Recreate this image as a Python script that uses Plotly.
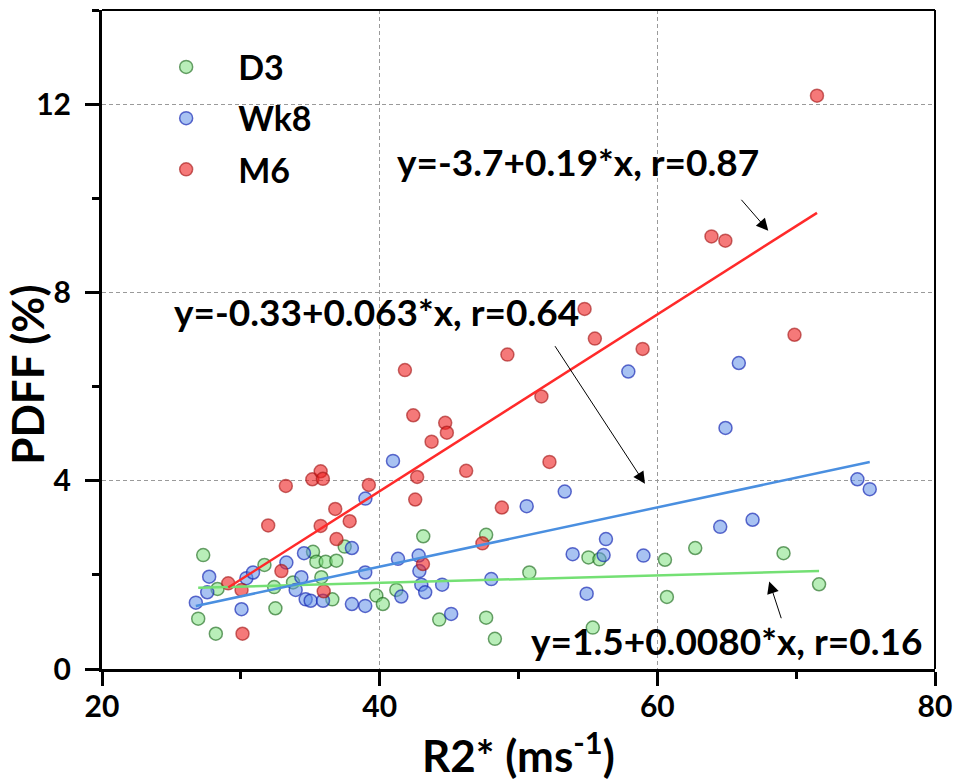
import plotly.graph_objects as go

# ---------------- data ----------------
d3_x = [27.29, 28.32, 26.93, 28.2, 31.7, 32.4, 32.49, 33.76, 35.2, 35.44, 36.11, 36.88,
        35.8, 36.59, 37.48, 39.76, 40.23, 41.2, 43.14, 44.29, 47.67, 47.67, 48.3, 50.78,
        55.04, 55.83, 55.35, 60.55, 60.69, 62.73, 69.09, 71.65]
d3_y = [2.42, 1.70, 1.07, 0.75, 2.21, 1.74, 1.29, 1.84, 2.49, 2.28, 2.28, 2.30,
        1.95, 1.48, 2.60, 1.56, 1.38, 1.68, 2.82, 1.05, 2.85, 1.09, 0.64, 2.05,
        2.37, 2.33, 0.88, 2.32, 1.53, 2.57, 2.46, 1.80]

wk8_x = [26.76, 27.58, 27.72, 30.05, 30.4, 30.88, 33.28, 34.55, 34.36, 33.95, 34.67, 35.03,
         35.92, 38.0, 38.0, 38.96, 38.96, 38.97, 40.96, 41.32, 41.56, 42.81, 42.86, 43.0,
         43.28, 44.5, 45.15, 48.04, 50.59, 53.33, 53.9, 54.91, 56.13, 56.3, 57.91, 59.0,
         64.53, 64.91, 65.87, 66.86, 74.41, 75.30]
wk8_y = [1.41, 1.63, 1.96, 1.27, 1.93, 2.05, 2.26, 2.46, 1.95, 1.68, 1.48, 1.45,
         1.45, 2.57, 1.38, 1.34, 2.05, 3.62, 4.42, 2.34, 1.54, 2.41, 2.08, 1.79,
         1.63, 1.79, 1.17, 1.91, 3.46, 3.77, 2.44, 1.60, 2.42, 2.76, 6.32, 2.41,
         3.02, 5.12, 6.50, 3.17, 4.03, 3.82]

m6_x = [29.09, 30.05, 30.12, 31.97, 32.92, 33.24, 35.15, 35.75, 35.91, 35.75, 35.97, 36.8,
        36.89, 37.84, 39.22, 41.82, 42.42, 42.56, 42.7, 43.12, 43.74, 44.72, 44.84, 46.23,
        47.4, 48.8, 49.2, 51.65, 52.23, 54.76, 55.5, 58.94, 63.9, 64.9, 69.88, 71.5]
m6_y = [1.82, 1.68, 0.75, 3.05, 2.08, 3.89, 4.03, 4.20, 4.04, 3.04, 1.65, 3.40,
        2.76, 3.14, 3.91, 6.35, 5.39, 3.60, 4.08, 2.23, 4.83, 5.23, 5.02, 4.21,
        2.67, 3.43, 6.68, 5.79, 4.40, 7.65, 7.02, 6.80, 9.19, 9.10, 7.10, 12.18]

# linear fits (intercept, slope) as drawn
fit_d3 = (1.509, 0.0080)
fit_wk8 = (-0.347, 0.0630)
fit_m6 = (-3.73, 0.1877)

fit_labels = ["y=1.5+0.0080*x, r=0.16", "y=-0.33+0.063*x, r=0.64", "y=-3.7+0.19*x, r=0.87"]
series_names = ["D3", "Wk8", "M6"]

x_ticks = [20, 40, 60, 80]
y_ticks = [0, 4, 8, 12]
x_title = "R2* (ms<sup>-1</sup>)"
y_title = "PDFF (%)"

# ---------------- styling ----------------
FONT = "Lato"
fills = ["rgba(128,224,128,0.55)", "rgba(96,144,232,0.55)", "rgba(238,32,32,0.6)"]
edges = ["rgba(16,96,16,0.6)", "rgba(16,32,176,0.65)", "rgba(160,16,16,0.6)"]
line_cols = ["#74e074", "#4a8fe0", "#ff2a2a"]

fig = go.Figure()
data = [(d3_x, d3_y), (wk8_x, wk8_y), (m6_x, m6_y)]
fits = [fit_d3, fit_wk8, fit_m6]

for i, (xs, ys) in enumerate(data):
    fig.add_trace(go.Scatter(
        x=xs, y=ys, mode="markers", name=series_names[i],
        legendgroup=series_names[i],
        marker=dict(size=13, color=fills[i], line=dict(color=edges[i], width=1.5)),
    ))

for i, (xs, ys) in enumerate(data):
    a, b = fits[i]
    x0, x1 = min(xs), max(xs)
    fig.add_trace(go.Scatter(
        x=[x0, x1], y=[a + b * x0, a + b * x1], mode="lines",
        line=dict(color=line_cols[i], width=2.5), showlegend=False, hoverinfo="skip",
    ))

axis_common = dict(
    showline=True, linecolor="black", linewidth=3,
    ticks="outside", ticklen=14, tickwidth=2.5, tickcolor="black",
    showgrid=True, gridcolor="#9a9a9a", gridwidth=1, griddash="4px,3px",
    zeroline=False, mirror=False, automargin=False,
    tickfont=dict(family=FONT, size=30, color="black", weight=700),
)

fig.update_xaxes(
    range=[20, 80], tickvals=x_ticks, **axis_common,
    minor=dict(dtick=10, tick0=0, ticks="outside", ticklen=7, tickwidth=2.5,
               tickcolor="black", showgrid=False),
    ticklabelstandoff=-5,
)
fig.update_yaxes(
    range=[0, 14], tickvals=y_ticks, **axis_common,
    minor=dict(dtick=2, tick0=0, ticks="outside", ticklen=7, tickwidth=2.5,
               tickcolor="black", showgrid=False),
    ticklabelstandoff=8,
)

# axis titles as annotations (placed like the reference)
fig.add_annotation(x=0.5, y=-0.126, xref="paper", yref="paper", text=x_title, showarrow=False,
                   font=dict(family=FONT, size=44, color="black", weight=700),
                   xanchor="center", yanchor="middle")
fig.add_annotation(x=-0.0900, y=0.4464, xref="paper", yref="paper", text=y_title, showarrow=False,
                   textangle=-90,
                   font=dict(family=FONT, size=44, color="black", weight=700),
                   xanchor="center", yanchor="middle")

# top and right frame lines
fig.add_shape(type="line", xref="paper", yref="paper", x0=0, x1=1, y0=1, y1=1,
              line=dict(color="black", width=2))
fig.add_shape(type="line", xref="paper", yref="paper", x0=1, x1=1, y0=0, y1=1,
              line=dict(color="black", width=2))

ann_font = dict(family=FONT, size=37, color="black", weight=700)
# fit labels
label_pos = [(64.98, 0.60), (39.77, 7.60), (54.25, 10.78)]
for txt, (lx, ly) in zip(fit_labels, label_pos):
    fig.add_annotation(x=lx, y=ly, xref="x", yref="y", text=txt, showarrow=False,
                       font=ann_font, xanchor="center", yanchor="middle")

# arrows (head, tail)
arrows = [((68.06, 1.86), (68.96, 1.047)),
          ((59.11, 3.935), (52.56, 6.89)),
          ((67.99, 9.31), (65.96, 10.0))]
for (hx, hy), (tx, ty) in arrows:
    fig.add_annotation(x=hx, y=hy, ax=tx, ay=ty, xref="x", yref="y", axref="x", ayref="y",
                       text="", showarrow=True, arrowhead=2, arrowsize=2.4, arrowwidth=1,
                       arrowcolor="black", standoff=0, startstandoff=0)

fig.update_layout(
    width=957, height=780,
    margin=dict(l=102, r=22, t=10, b=111, autoexpand=False),
    plot_bgcolor="white", paper_bgcolor="white",
    showlegend=True,
    legend=dict(x=0.0386, y=0.957, xanchor="left", yanchor="top",
                bgcolor="rgba(0,0,0,0)", borderwidth=0,
                font=dict(family=FONT, size=34, color="black", weight=700),
                itemwidth=94, traceorder="grouped", tracegroupgap=4),
    font=dict(family=FONT),
)

fig.write_html("out.html")
